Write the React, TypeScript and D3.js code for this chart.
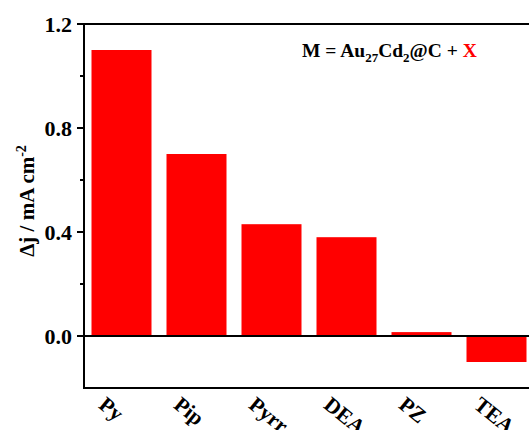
import React from "react";
import * as d3 from "d3";

const categories = ["Py", "Pip", "Pyrr", "DEA", "PZ", "TEA"];
const deltaJ = [1.1, 0.7, 0.43, 0.38, 0.015, -0.1];
const majorTicks = [0.0, 0.4, 0.8, 1.2];
const minorTicks = [0.2, 0.6, 1.0];

const W = 529;
const H = 430;
const left = 84;
const top = 24;
const bottom = 388;
const serif = "Liberation Serif";
const bold = (size: number): React.CSSProperties => ({ fontFamily: serif, fontWeight: "bold", fontSize: size });

export default function App() {
  const x = d3.scaleBand<string>().domain(categories).range([left, left + 450]).paddingInner(0.2).paddingOuter(0.1);
  const y = d3.scaleLinear().domain([-0.2, 1.2]).range([bottom, top]);
  const y0 = y(0);

  return (
    <div style={{ position: "fixed", left: 0, top: 0 }}>
      <svg width={W} height={H} style={{ display: "block", background: "#fff" }}>
        {categories.map((c, i) => {
          const v = deltaJ[i];
          return (
            <rect
              key={c}
              x={x(c)}
              width={x.bandwidth()}
              y={Math.min(y(v), y0)}
              height={Math.abs(y(v) - y0)}
              fill="#ff0000"
            />
          );
        })}
        {/* frame and zero line */}
        <line x1={left} x2={W} y1={top} y2={top} stroke="#000" strokeWidth={2} />
        <line x1={left} x2={W} y1={bottom} y2={bottom} stroke="#000" strokeWidth={2} />
        <line x1={left} x2={left} y1={top - 1} y2={bottom + 1} stroke="#000" strokeWidth={2} />
        <line x1={left} x2={W} y1={y0} y2={y0} stroke="#000" strokeWidth={2} />
        {majorTicks.map((t) => (
          <g key={t}>
            <line x1={left - 7} x2={left} y1={y(t)} y2={y(t)} stroke="#000" strokeWidth={2} />
            <text x={left - 12} y={y(t)} dy="0.35em" textAnchor="end" style={bold(22)}>
              {d3.format(".1f")(t)}
            </text>
          </g>
        ))}
        {minorTicks.map((t) => (
          <line key={t} x1={left - 4} x2={left} y1={y(t)} y2={y(t)} stroke="#000" strokeWidth={2} />
        ))}
        {categories.map((c) => {
          const cx = (x(c) as number) + x.bandwidth() / 2;
          return (
            <text key={c} transform={`translate(${cx - 24},${bottom + 19}) rotate(39)`} style={bold(21.5)}>
              {c}
            </text>
          );
        })}
        <text transform={`translate(34,201) rotate(-90)`} textAnchor="middle" style={bold(21)}>
          Δj / mA cm<tspan dy="-8" style={{ fontSize: 14 }}>-2</tspan>
        </text>
        <text x={302} y={57} style={bold(19.5)}>
          M = Au<tspan dy="5" style={{ fontSize: 13 }}>27</tspan>
          <tspan dy="-5">Cd</tspan>
          <tspan dy="5" style={{ fontSize: 13 }}>2</tspan>
          <tspan dy="-5">@C + </tspan>
          <tspan fill="#ff0000">X</tspan>
        </text>
      </svg>
    </div>
  );
}
